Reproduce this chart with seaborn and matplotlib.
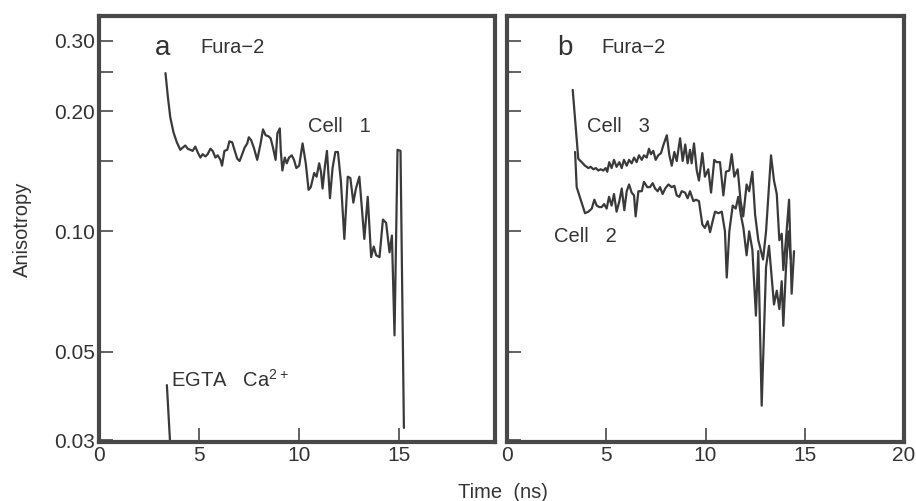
import numpy as np
import pandas as pd
import matplotlib
matplotlib.use("Agg")
import matplotlib.pyplot as plt
import seaborn as sns

# panel a : Cell 1
cell1_t = [3.33, 3.45, 3.57, 3.73, 3.90, 4.07, 4.19, 4.32, 4.44, 4.57, 4.69, 4.82,
           4.96, 5.08, 5.19, 5.33, 5.44, 5.58, 5.69, 5.83, 5.94, 6.08, 6.16, 6.28,
           6.42, 6.53, 6.67, 6.78, 6.92, 7.04, 7.17, 7.29, 7.42, 7.50, 7.62, 7.75,
           7.92, 8.09, 8.21, 8.34, 8.48, 8.59, 8.71, 8.84, 8.93, 9.05, 9.10, 9.18,
           9.30, 9.40, 9.51, 9.65, 9.76, 9.88, 10.02, 10.19, 10.35, 10.49, 10.60,
           10.77, 10.89, 11.02, 11.11, 11.19, 11.31, 11.41, 11.56, 11.69, 11.83,
           11.96, 12.11, 12.28, 12.45, 12.58, 12.73, 12.86, 13.03, 13.28, 13.45,
           13.62, 13.75, 13.87, 14.04, 14.21, 14.37, 14.54, 14.66, 14.79, 14.94,
           15.09, 15.26]
cell1_r = [0.249, 0.217, 0.193, 0.177, 0.167, 0.160, 0.162, 0.164, 0.161, 0.160, 0.159, 0.163,
           0.157, 0.153, 0.156, 0.154, 0.156, 0.161, 0.159, 0.153, 0.155, 0.151, 0.146, 0.159,
           0.160, 0.168, 0.167, 0.160, 0.152, 0.150, 0.156, 0.162, 0.166, 0.172, 0.169, 0.162,
           0.151, 0.166, 0.180, 0.174, 0.173, 0.171, 0.162, 0.151, 0.176, 0.181, 0.159, 0.142,
           0.153, 0.148, 0.153, 0.155, 0.151, 0.144, 0.146, 0.166, 0.148, 0.127, 0.129,
           0.140, 0.137, 0.148, 0.141, 0.128, 0.146, 0.159, 0.121, 0.144, 0.158,
           0.158, 0.133, 0.0957, 0.137, 0.136, 0.118, 0.128, 0.137, 0.0957, 0.122,
           0.0862, 0.0916, 0.0871, 0.0862, 0.107, 0.105, 0.0886, 0.0976, 0.0549, 0.160,
           0.159, 0.0322]

# EGTA / Ca2+ marker
egta_t = [3.40, 3.57]
egta_r = [0.0412, 0.029]

# panel b : Cell 3 (upper) and Cell 2 (lower)
cell3_t = [3.31, 3.59, 3.76, 3.93, 4.10, 4.22, 4.35, 4.48, 4.60, 4.72, 4.85, 4.97,
           5.05, 5.15, 5.27, 5.39, 5.52, 5.66, 5.78, 5.89, 6.03, 6.15, 6.28, 6.40,
           6.53, 6.65, 6.79, 6.90, 7.04, 7.15, 7.25, 7.37, 7.49, 7.62, 7.76, 7.87,
           8.05, 8.18, 8.30, 8.43, 8.55, 8.72, 8.85, 8.98, 9.10, 9.22, 9.30, 9.42,
           9.56, 9.67, 9.84, 9.97, 10.14, 10.28, 10.44, 10.56, 10.73, 10.90, 11.03,
           11.20, 11.32, 11.45, 11.62, 11.77, 11.90, 12.07, 12.20, 12.36, 12.50,
           12.66, 12.90, 13.05, 13.30, 13.45, 13.59, 13.72, 13.84, 13.92, 14.05,
           14.21, 14.34, 14.46]
cell3_r = [0.226, 0.152, 0.149, 0.146, 0.144, 0.145, 0.143, 0.144, 0.142, 0.143, 0.142, 0.144,
           0.141, 0.149, 0.144, 0.151, 0.145, 0.149, 0.144, 0.151, 0.146, 0.151, 0.148, 0.153,
           0.149, 0.155, 0.151, 0.155, 0.153, 0.161, 0.156, 0.159, 0.151, 0.155, 0.157, 0.164,
           0.174, 0.155, 0.146, 0.158, 0.150, 0.171, 0.150, 0.165, 0.148, 0.160, 0.148, 0.166,
           0.142, 0.134, 0.157, 0.137, 0.143, 0.125, 0.151, 0.149, 0.149, 0.123, 0.141,
           0.142, 0.156, 0.137, 0.143, 0.119, 0.109, 0.131, 0.126, 0.141, 0.110,
           0.095, 0.085, 0.100, 0.155, 0.134, 0.124, 0.095, 0.0986, 0.080, 0.095,
           0.120, 0.0698, 0.0892]

cell2_t = [3.43, 3.51, 3.93, 4.10, 4.27, 4.40, 4.52, 4.65, 4.77, 4.89, 5.02, 5.14,
           5.27, 5.39, 5.52, 5.66, 5.78, 5.91, 6.03, 6.15, 6.28, 6.40, 6.48, 6.62,
           6.79, 6.90, 7.07, 7.20, 7.34, 7.46, 7.59, 7.71, 7.84, 7.97, 8.13, 8.30,
           8.43, 8.55, 8.68, 8.80, 8.97, 9.10, 9.22, 9.39, 9.52, 9.67, 9.84, 9.97,
           10.11, 10.23, 10.36, 10.48, 10.65, 10.82, 10.98, 11.07, 11.20, 11.37,
           11.52, 11.65, 11.78, 11.91, 12.07, 12.20, 12.36, 12.54, 12.66, 12.83,
           13.05, 13.20, 13.45, 13.59, 13.72, 13.84, 13.92, 14.05, 14.17, 14.30]
cell2_r = [0.158, 0.129, 0.111, 0.112, 0.114, 0.120, 0.116, 0.115, 0.115, 0.117, 0.114, 0.122,
           0.116, 0.124, 0.112, 0.119, 0.128, 0.113, 0.126, 0.131, 0.125, 0.123, 0.109, 0.126,
           0.126, 0.133, 0.129, 0.129, 0.132, 0.128, 0.126, 0.129, 0.124, 0.128, 0.131, 0.129,
           0.130, 0.123, 0.122, 0.126, 0.125, 0.121, 0.126, 0.119, 0.120, 0.119, 0.104, 0.102,
           0.106, 0.0995, 0.106, 0.112, 0.111, 0.112, 0.100, 0.0766, 0.100, 0.116,
           0.114, 0.122, 0.110, 0.102, 0.0871, 0.100, 0.090, 0.0615, 0.0892, 0.0366,
           0.0814, 0.092, 0.0656, 0.0710, 0.0639, 0.075, 0.0580, 0.080, 0.100, 0.085]

ytick_vals = [0.03, 0.05, 0.10, 0.15, 0.20, 0.25, 0.30]
ytick_labels = ["0.03", "0.05", "0.10", "", "0.20", "", "0.30"]

sns.set_style("ticks")
plt.rcParams['font.family'] = ['Liberation Sans', 'DejaVu Sans']
plt.rcParams['mathtext.default'] = 'regular'

ink = "#3a3a3a"
fig = plt.figure(figsize=(9.16, 5.01), dpi=100)
ax_a = fig.add_axes([0.108, 0.118, 0.432, 0.850])
ax_b = fig.add_axes([0.5535, 0.118, 0.4334, 0.850])


def draw(ax, t, r):
    df = pd.DataFrame({"t": t, "r": r})
    sns.lineplot(data=df, x="t", y="r", ax=ax, color=ink, lw=1.6,
                 estimator=None, sort=False)


draw(ax_a, cell1_t, cell1_r)
draw(ax_a, egta_t, egta_r)
draw(ax_b, cell3_t, cell3_r)
draw(ax_b, cell2_t, cell2_r)

for ax, xmax in [(ax_a, 19.8), (ax_b, 20.0)]:
    ax.set_yscale("log")
    ax.set_ylim(0.0297, 0.346)
    ax.set_xlim(0, xmax)
    ax.set_yticks(ytick_vals)
    ax.yaxis.set_minor_locator(matplotlib.ticker.NullLocator())
    ax.set_xlabel("")
    ax.set_ylabel("")
    for s in ax.spines.values():
        s.set_visible(True)
        s.set_linewidth(3)
        s.set_color("#484848")
    ax.tick_params(direction="in", length=10, width=1.2, color="#484848",
                   labelsize=15, labelcolor="#333333", pad=3)

ax_a.set_yticklabels(ytick_labels)
ax_a.set_xticks([0, 5, 10, 15])
ax_b.set_yticklabels([""] * len(ytick_vals))
ax_b.set_xticks([0, 5, 10, 15, 20])

txt = dict(color="#333333", va="center")
ax_a.text(3.2, 0.288, "a", fontsize=20, ha="center", **txt)
ax_a.text(5.07, 0.288, "Fura\u22122", fontsize=14.5, **txt)
ax_a.text(10.45, 0.183, "Cell   1", fontsize=14.5, **txt)
ax_a.text(3.62, 0.0425, "EGTA   Ca$^{2+}$", fontsize=14.5, **txt)
ax_b.text(2.92, 0.288, "b", fontsize=20, ha="center", **txt)
ax_b.text(4.74, 0.288, "Fura\u22122", fontsize=14.5, **txt)
ax_b.text(4.03, 0.183, "Cell   3", fontsize=14.5, **txt)
ax_b.text(2.37, 0.097, "Cell   2", fontsize=14.5, **txt)

fig.text(0.024, 0.543, "Anisotropy", rotation=90, ha="center", va="center",
         fontsize=14.5, color="#333333")
fig.text(0.549, 0.016, "Time  (ns)", ha="center", va="center",
         fontsize=14.5, color="#333333")

fig.savefig("out.png", dpi=100)
